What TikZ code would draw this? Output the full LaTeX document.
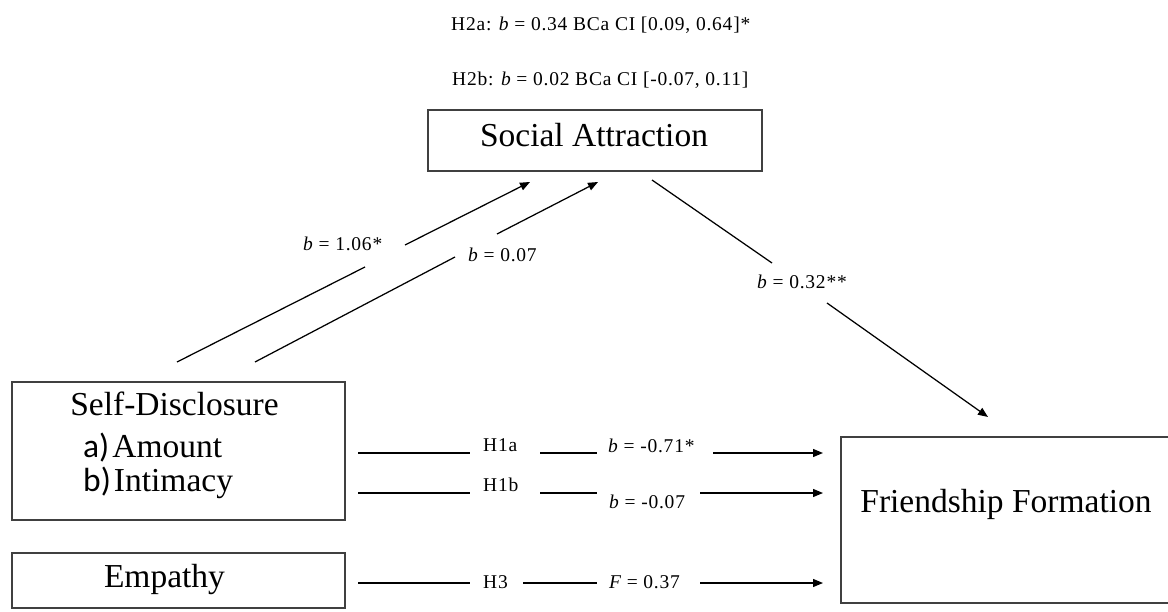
\documentclass[tikz,border=0pt]{standalone}
\usepackage{fontspec}
\setmainfont{Liberation Serif}
\newfontfamily\labfont[LetterSpace=4]{Liberation Serif}
\newfontfamily\sansab{Carlito}
\usetikzlibrary{arrows.meta}

\begin{document}
\begin{tikzpicture}[x=1pt,y=-1pt,
  box/.style={draw=black!75, line width=1.6pt, rectangle, inner sep=0pt},
  big/.style={font=\fontsize{33.5}{36}\selectfont, inner sep=0pt},
  lab/.style={font=\fontsize{19.5}{21}\labfont, inner sep=0pt, anchor=base west},
  conn/.style={line width=1.25pt, black},
  arr/.style={conn, -{Triangle[length=10pt,width=8pt]}}
]
\useasboundingbox (0,0) rectangle (1168,612);

% boxes
\node[box, minimum width=334pt, minimum height=61pt] (sa) at (595,140.5) {};
\node[big, anchor=base] (satext) at (594,147) {Social Attraction};
\node[box, minimum width=333pt, minimum height=138pt] (sd) at (178.5,451) {};
\node[big, anchor=base] (sdtitle) at (174.5,415) {Self-Disclosure};
\node[big, anchor=base west] (sda) at (83,457) {{\sansab a)}\kern3pt Amount};
\node[big, anchor=base west] (sdb) at (83,491) {{\sansab b)}\kern3pt Intimacy};
\node[box, minimum width=333pt, minimum height=55pt] (em) at (178.5,580.5) {};
\node[big, anchor=base] (emtext) at (164.5,587) {Empathy};
\node[box, minimum width=332pt, minimum height=166pt] (ff) at (1007,520) {};
\node[big, anchor=base] (fftext) at (1006,512) {Friendship Formation};

% top labels
\node[lab] (h2a) at (451,31) {H2a: {\itshape b} = 0.34 BCa CI [0.09, 0.64]*};
\node[lab] (h2b) at (452,86) {H2b: {\itshape b} = 0.02 BCa CI [-0.07, 0.11]};

% diagonal 1
\coordinate (a1s) at (177,362); \coordinate (a1m) at (365,267);
\coordinate (a1n) at (405,245); \coordinate (a1e) at (530,182);
\draw[conn] (a1s) -- (a1m); \draw[arr] (a1n) -- (a1e);
\node[lab] (l1) at (303,251) {{\itshape b} = 1.06*};
% diagonal 2
\coordinate (a2s) at (255,362); \coordinate (a2m) at (455,257);
\coordinate (a2n) at (497,234); \coordinate (a2e) at (598,182);
\draw[conn] (a2s) -- (a2m); \draw[arr] (a2n) -- (a2e);
\node[lab] (l2) at (468,262) {{\itshape b} = 0.07};
% diagonal 3
\coordinate (a3s) at (652,180); \coordinate (a3m) at (772,263);
\coordinate (a3n) at (827,303); \coordinate (a3e) at (988,417);
\draw[conn] (a3s) -- (a3m); \draw[arr] (a3n) -- (a3e);
\node[lab] (l3) at (757,289) {{\itshape b} = 0.32**};

% row H1a
\coordinate (r1a) at (358,453); \coordinate (r1b) at (470,453);
\coordinate (r1c) at (540,453); \coordinate (r1d) at (597,453);
\coordinate (r1e) at (713,453); \coordinate (r1f) at (823,453);
\draw[conn] (r1a) -- (r1b); \draw[conn] (r1c) -- (r1d); \draw[arr] (r1e) -- (r1f);
\node[lab] (h1a) at (483,451) {H1a};
\node[lab] (l4) at (608,452) {{\itshape b} = -0.71*};
% row H1b
\coordinate (r2a) at (358,493); \coordinate (r2b) at (470,493);
\coordinate (r2c) at (540,493); \coordinate (r2d) at (597,493);
\coordinate (r2e) at (700,493); \coordinate (r2f) at (823,493);
\draw[conn] (r2a) -- (r2b); \draw[conn] (r2c) -- (r2d); \draw[arr] (r2e) -- (r2f);
\node[lab] (h1b) at (483,491) {H1b};
\node[lab] (l5) at (609,508) {{\itshape b} = -0.07};
% row H3
\coordinate (r3a) at (358,583); \coordinate (r3b) at (470,583);
\coordinate (r3c) at (523,583); \coordinate (r3d) at (597,583);
\coordinate (r3e) at (700,583); \coordinate (r3f) at (823,583);
\draw[conn] (r3a) -- (r3b); \draw[conn] (r3c) -- (r3d); \draw[arr] (r3e) -- (r3f);
\node[lab] (h3) at (483,588) {H3};
\node[lab] (l6) at (609,588) {{\itshape F} = 0.37};
\end{tikzpicture}
\end{document}
